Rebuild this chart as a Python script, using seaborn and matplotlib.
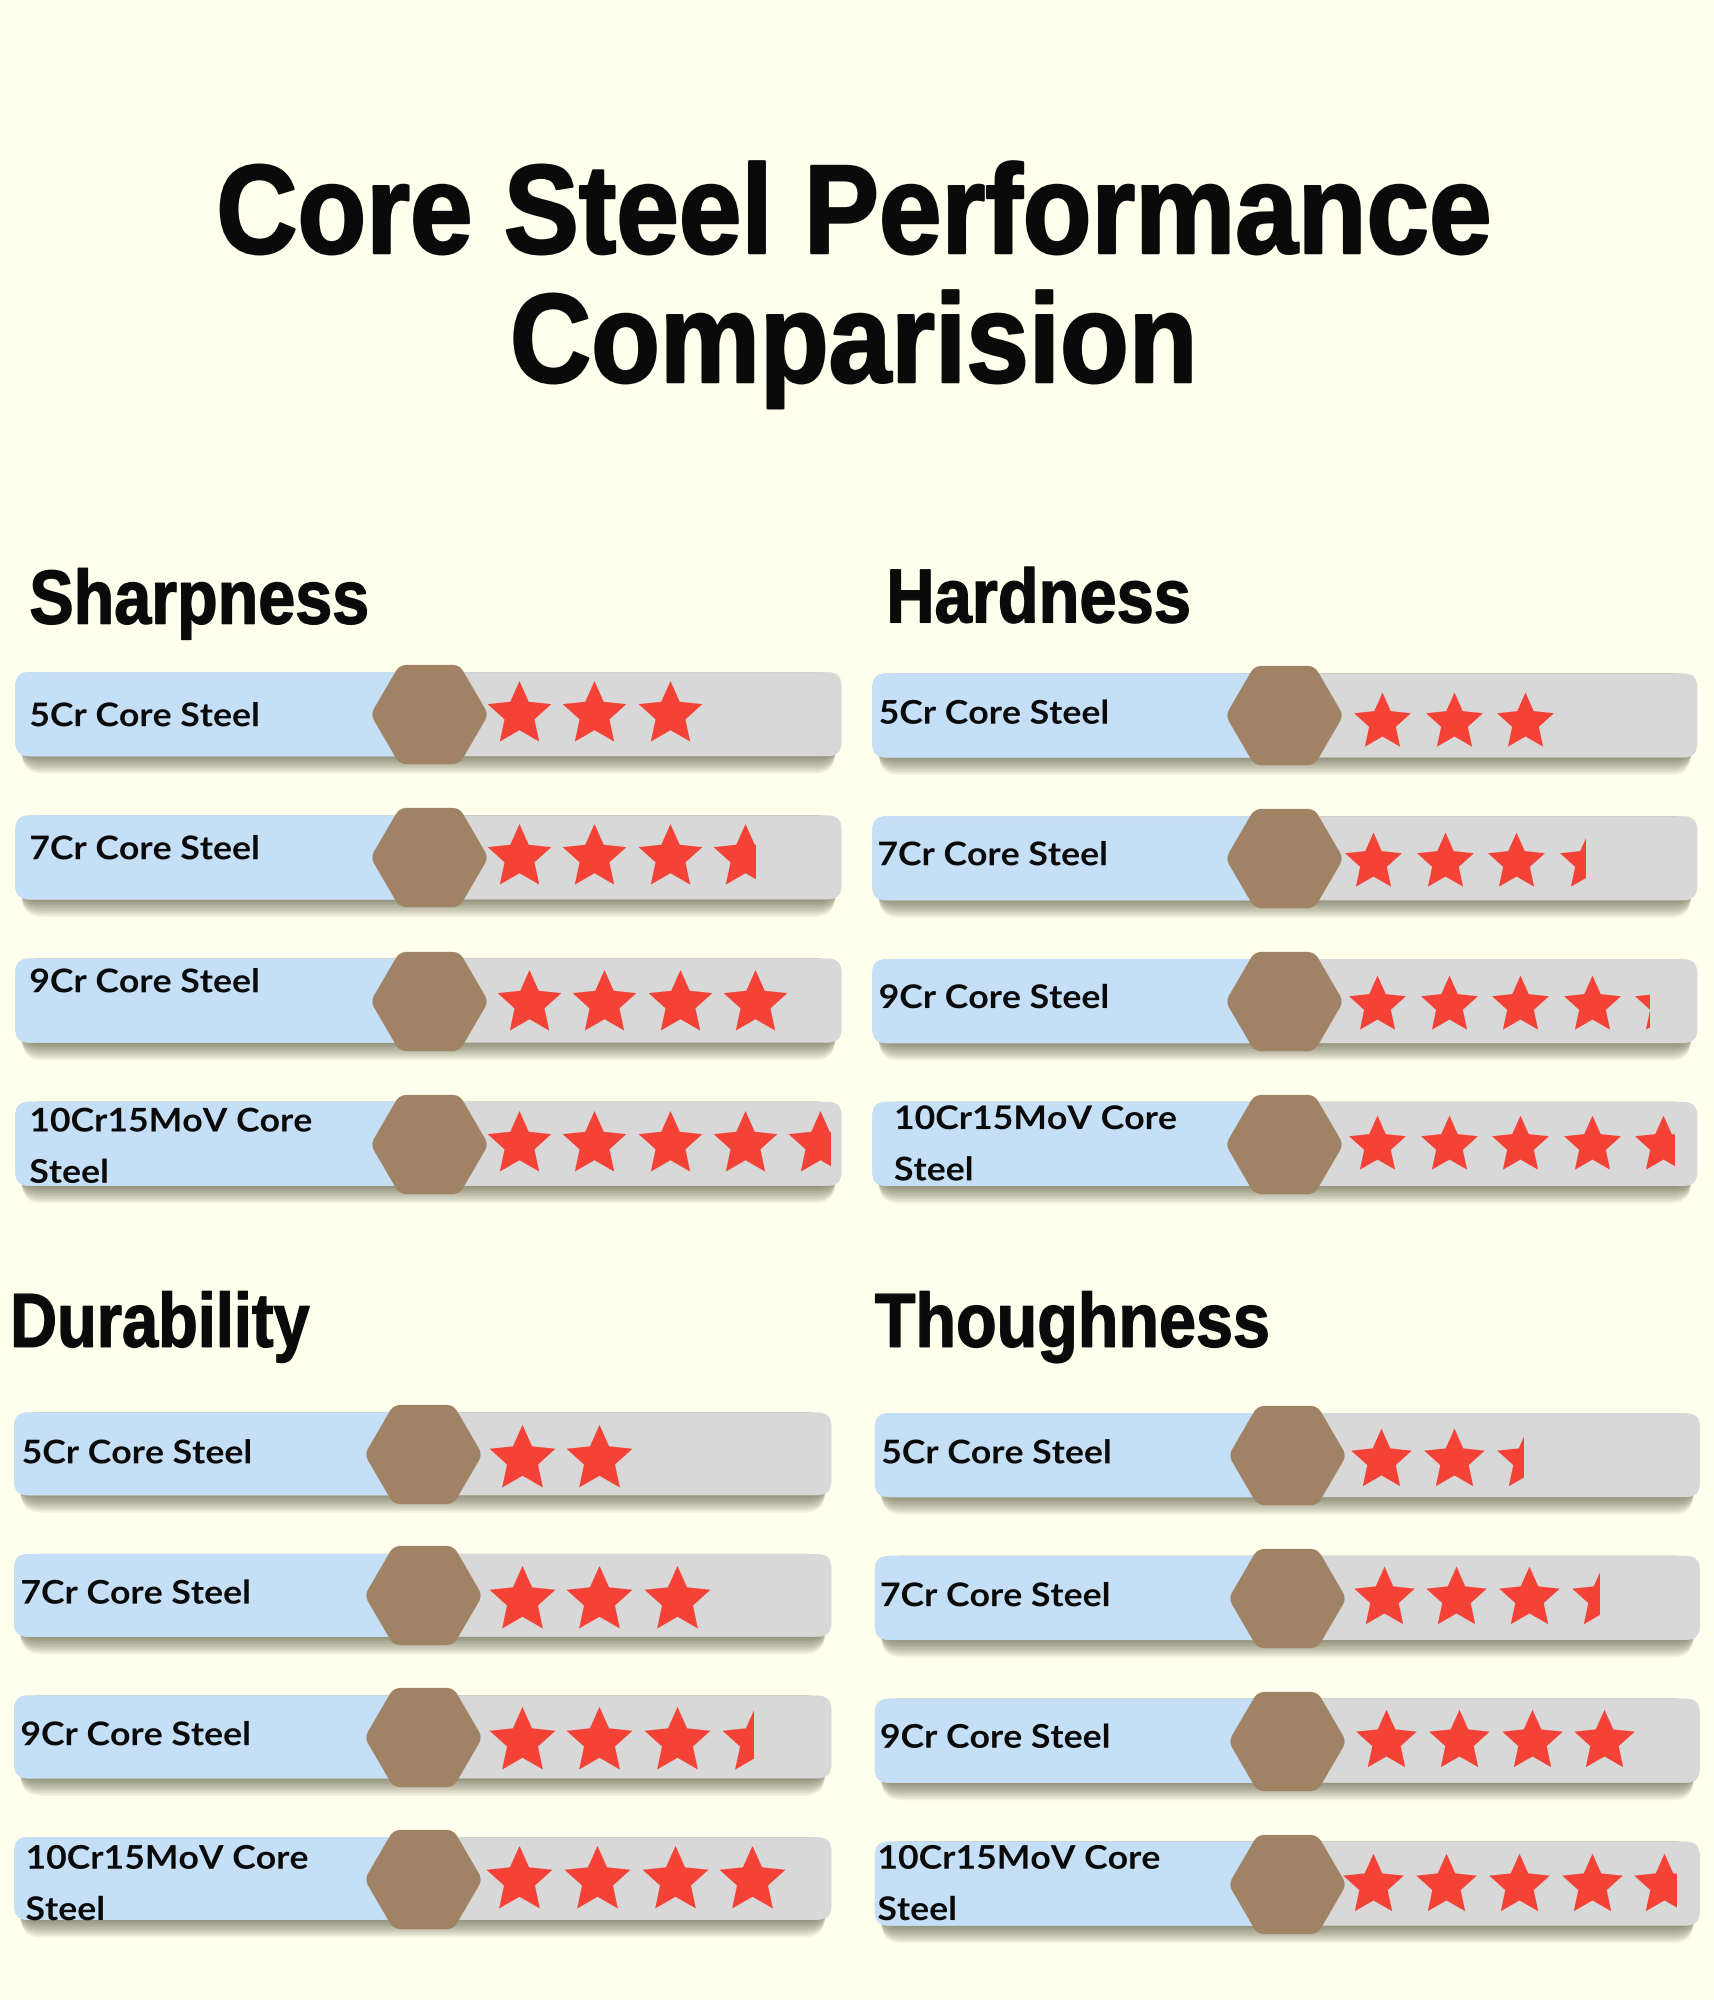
import matplotlib
matplotlib.use('Agg')
import matplotlib.patheffects as pe
import matplotlib.pyplot as plt
from matplotlib.patches import FancyBboxPatch, Rectangle
from matplotlib.path import Path
from matplotlib.transforms import Affine2D
import numpy as np
import pandas as pd
import seaborn as sns

W, H = 1714, 2000
SCALE = 1714 / 1344  # layout numbers below were measured on a 1344 wide view

BG = '#FFFFEE'
BLUE = '#C5DFF6'
GREY = '#D8D8D8'
BROWN = '#A08264'
RED = '#F44236'
INK = '#0A0A0A'

title_lines = ['Core Steel Performance', 'Comparision']
steels = ['5Cr Core Steel', '7Cr Core Steel', '9Cr Core Steel', '10Cr15MoV Core\nSteel']

sharpness = [3, 3.66, 4, 4.65]
hardness = [3, 3.45, 4.25, 4.7]
durability = [2, 3, 3.47, 4]
thoughness = [2.45, 3.46, 4, 4.7]

panels = [
    dict(name='Sharpness', ratings=sharpness, head=(23, 489), head_fit=0.87, left=12, right=660,
         first_row=560, row_pitch=112.3, bar_h=66, hex_x=336, first_star=407, star_pitch=59, star_r=26.3,
         nudge=[0, 0, 8, 0], star_dy=[0, 0, 2, 0], label_x=[11, 11, 11, 11], label_dy=[2, -6, -14, 3]),
    dict(name='Hardness', ratings=hardness, head=(695, 488), head_fit=0.875, left=684, right=1331,
         first_row=561, row_pitch=112, bar_h=66, hex_x=1007, first_star=1084, star_pitch=56, star_r=23.5,
         nudge=[0, -7, -4, -4], star_dy=[5, 3, 3, 1], label_x=[5, 4, 5, 17], label_dy=[-1, -2, -2, 1]),
    dict(name='Durability', ratings=durability, head=(8, 1056), head_fit=0.85, left=11, right=652,
         first_row=1140, row_pitch=111, bar_h=65, hex_x=332, first_star=409, star_pitch=61, star_r=27.2,
         nudge=[0, 0, 0, -2], star_dy=[4, 4, 3, 1], label_x=[6, 5, 5, 9], label_dy=[0, -1, -1, 5]),
    dict(name='Thoughness', ratings=thoughness, head=(686, 1056), head_fit=0.87, left=686, right=1333,
         first_row=1141, row_pitch=112, bar_h=66, hex_x=1009, first_star=1083, star_pitch=57, star_r=25,
         nudge=[0, 2, 4, -6], star_dy=[4, 0, 0, 1], label_x=[5, 4, 4, 2], label_dy=[-1, -1, -2, 1]),
]


class Squeeze(pe.AbstractPathEffect):
    # rescales a line of text horizontally around a fixed pixel x, with optional extra weight
    def __init__(self, factor, center=None, stroke=0):
        super().__init__()
        self.factor = factor
        self.center = center
        self.stroke = stroke

    def draw_path(self, renderer, gc, tpath, affine, rgbFace=None):
        cx = affine.to_values()[4] if self.center is None else self.center
        squeezed = affine + Affine2D().translate(-cx, 0).scale(self.factor, 1).translate(cx, 0)
        gc0 = renderer.new_gc()
        gc0.copy_properties(gc)
        gc0.set_linewidth(self.stroke)
        gc0.set_foreground(rgbFace)
        gc0.set_joinstyle('round')
        renderer.draw_path(gc0, tpath, squeezed, rgbFace)
        gc0.restore()


def hex_marker():
    tx, ty, tip = 0.53, 0.875, 1.04
    c = 0.13
    corners = [(tx, ty), (tip, 0), (tx, -ty), (-tx, -ty), (-tip, 0), (-tx, ty)]
    verts, codes = [], []
    for i, p in enumerate(corners):
        p = np.array(p)
        prev = np.array(corners[i - 1])
        nxt = np.array(corners[(i + 1) % 6])
        a = p + (prev - p) / np.linalg.norm(prev - p) * c
        b = p + (nxt - p) / np.linalg.norm(nxt - p) * c
        verts += [a, p, b]
        codes += [Path.MOVETO if i == 0 else Path.LINETO, Path.CURVE3, Path.CURVE3]
    verts.append(verts[0])
    codes.append(Path.CLOSEPOLY)
    return Path(np.array(verts) / tip, codes)


def star_marker(inner=0.47):
    angles = np.radians(90 + 36 * np.arange(10))
    radii = np.where(np.arange(10) % 2 == 0, 1.0, inner)
    verts = np.column_stack([radii * np.cos(angles), radii * np.sin(angles)])
    return Path(np.vstack([verts, verts[:1]]), closed=True)


def draw_panel(fig, p):
    left, right = p['left'] * SCALE, p['right'] * SCALE
    pitch_y = p['row_pitch'] * SCALE
    top = p['first_row'] * SCALE - pitch_y / 2
    ax = fig.add_axes([left / W, 1 - (top + 4 * pitch_y) / H, (right - left) / W, 4 * pitch_y / H])
    ax.axis('off')

    # x is counted in stars, y in rows
    pitch_x = p['star_pitch'] * SCALE
    first = p['first_star'] * SCALE
    xlim = ((left - first) / pitch_x, (right - first) / pitch_x)
    to_x = lambda px: (px * SCALE - first) / pitch_x
    ux, uy = 1 / pitch_x, 1 / pitch_y
    aspect = uy / ux
    half = p['bar_h'] * SCALE / 2 * uy
    hex_at = to_x(p['hex_x'])

    for row in range(4):
        x0, x1 = xlim
        # soft shadow from stacked translucent boxes
        for k in range(12):
            grow = (1 + k * 1.5) * uy
            inset = (3 + k * 0.35) * ux
            ax.add_patch(FancyBboxPatch(
                (x0 + inset, row - half), x1 - x0 - 2 * inset, 2 * half + grow,
                boxstyle=f'round,pad=0,rounding_size={20 * ux}', mutation_aspect=aspect,
                fc='#3A3A20', ec='none', alpha=0.06, zorder=1, clip_on=False))
        ax.add_patch(FancyBboxPatch(
            (x0, row - half), x1 - x0, 2 * half,
            boxstyle=f'round,pad=0,rounding_size={14 * ux}', mutation_aspect=aspect,
            fc=GREY, ec='none', zorder=2, clip_on=False))
        ax.add_patch(FancyBboxPatch(
            (x0, row - half), hex_at - x0, 2 * half,
            boxstyle=f'round,pad=0,rounding_size={14 * ux}', mutation_aspect=aspect,
            fc=BLUE, ec='none', zorder=3, clip_on=False))

    hex_df = pd.DataFrame({'x': [hex_at] * 4, 'y': range(4)})
    sns.scatterplot(data=hex_df, x='x', y='y', marker=hex_marker(), s=(118 * 0.72) ** 2,
                    color=BROWN, linewidth=0, legend=False, zorder=4, clip_on=False, ax=ax)

    R = p['star_r'] * SCALE
    star_s = (2 * R * 0.72) ** 2
    half_w = R * np.sin(np.radians(72)) * ux
    star = star_marker()
    full_rows = []
    for row, rating in enumerate(p['ratings']):
        shift = p['nudge'][row] * SCALE * ux
        y = row + p['star_dy'][row] * SCALE * uy
        for k in range(int(rating)):
            full_rows.append((k + shift, y))
        frac = rating - int(rating)
        if frac > 0:
            xc = int(rating) + shift
            part = pd.DataFrame({'x': [xc], 'y': [y]})
            sns.scatterplot(data=part, x='x', y='y', marker=star, s=star_s, color=RED,
                            linewidth=0, legend=False, zorder=5, ax=ax)
            cut = Rectangle((xc - 2 * half_w, y - 1), half_w + 2 * half_w * frac, 2, transform=ax.transData)
            ax.collections[-1].set_clip_path(cut)
    stars = pd.DataFrame(full_rows, columns=['x', 'y'])
    sns.scatterplot(data=stars, x='x', y='y', marker=star, s=star_s, color=RED,
                    linewidth=0, legend=False, zorder=5, clip_on=False, ax=ax)

    ax.set_xlim(xlim)
    ax.set_ylim(3.5, -0.5)

    for row, name in enumerate(steels):
        ax.text(xlim[0] + p['label_x'][row] * SCALE * ux, row + p['label_dy'][row] * SCALE * uy, name,
                family='Lato', weight='bold', fontsize=23.5, color=INK, va='center', ha='left',
                linespacing=1.93, zorder=6, path_effects=[Squeeze(1.09)])

    fig.text(p['head'][0] * SCALE / W, 1 - p['head'][1] * SCALE / H, p['name'], family='Liberation Sans',
             weight='bold', fontsize=55, color=INK, ha='left', va='baseline',
             path_effects=[Squeeze(p['head_fit'], stroke=1.0)])


sns.set_theme(style='white', rc={'figure.facecolor': BG, 'savefig.facecolor': BG})
fig = plt.figure(figsize=(W / 100, H / 100), dpi=100)

for p in panels:
    draw_panel(fig, p)

for line, base in zip(title_lines, [253, 382]):
    fig.text(854 / W, 1 - base / H, line, family='Liberation Sans', weight='bold', fontsize=91,
             color=INK, ha='center', va='baseline', path_effects=[Squeeze(0.89, 854, stroke=1.8)])

fig.savefig('out.png', dpi=100)
